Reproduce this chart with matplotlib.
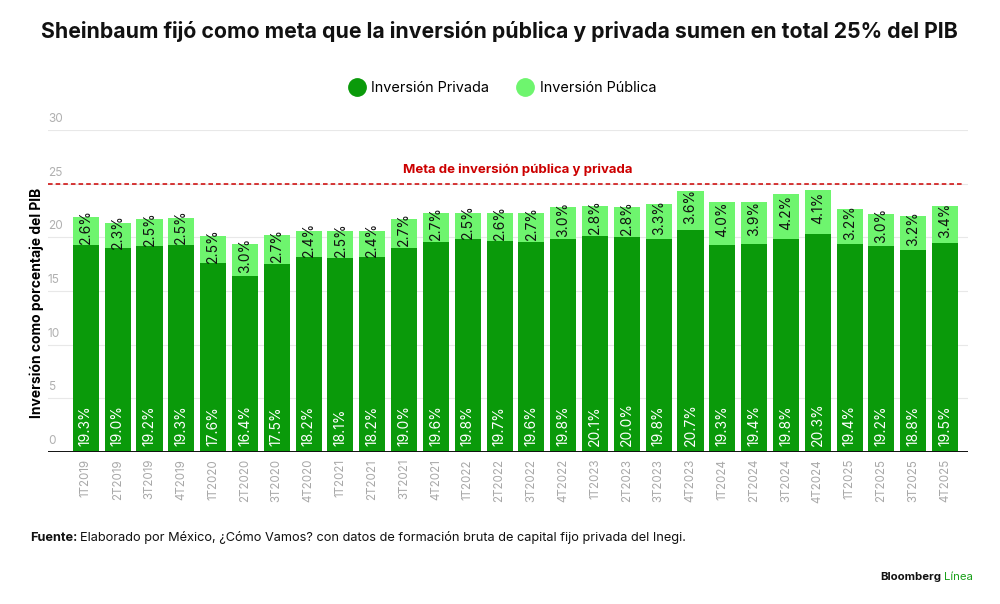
import numpy as np
import matplotlib
matplotlib.use('Agg')
import matplotlib.pyplot as plt
from matplotlib.lines import Line2D

plt.rcParams['font.family'] = ['Inter', 'DejaVu Sans']

# Data
trimestres = ['1T2019', '2T2019', '3T2019', '4T2019',
              '1T2020', '2T2020', '3T2020', '4T2020',
              '1T2021', '2T2021', '3T2021', '4T2021',
              '1T2022', '2T2022', '3T2022', '4T2022',
              '1T2023', '2T2023', '3T2023', '4T2023',
              '1T2024', '2T2024', '3T2024', '4T2024',
              '1T2025', '2T2025', '3T2025', '4T2025']
privada = [19.3, 19.0, 19.2, 19.3, 17.6, 16.4, 17.5, 18.2, 18.1, 18.2, 19.0, 19.6, 19.8, 19.7,
           19.6, 19.8, 20.1, 20.0, 19.8, 20.7, 19.3, 19.4, 19.8, 20.3, 19.4, 19.2, 18.8, 19.5]
publica = [2.6, 2.3, 2.5, 2.5, 2.5, 3.0, 2.7, 2.4, 2.5, 2.4, 2.7, 2.7, 2.5, 2.6,
           2.7, 3.0, 2.8, 2.8, 3.3, 3.6, 4.0, 3.9, 4.2, 4.1, 3.2, 3.0, 3.2, 3.4]
meta = 25

verde_osc = '#0a9a0a'
verde_cla = '#6ef56e'
rojo = '#cc0000'

fig = plt.figure(figsize=(10, 6.04), dpi=100)
ax = fig.add_axes([0.048, 0.2517, 0.92, 0.5331])

x = np.arange(len(trimestres))
priv = np.array(privada)
pub = np.array(publica)

ax.bar(x, priv, width=0.82, color=verde_osc, zorder=2)
ax.bar(x, pub, width=0.82, bottom=priv, color=verde_cla, zorder=2)

# etiquetas
for i in range(len(x)):
    ax.text(x[i], 0.55, f'{privada[i]:.1f}%', rotation=90, ha='center', va='bottom',
            color='white', fontsize=10, zorder=3)
    ax.text(x[i], priv[i] + pub[i] / 2 + 0.4, f'{publica[i]:.1f}%', rotation=90,
            ha='center', va='center', color='#111111', fontsize=10, zorder=3)

# meta
ax.axhline(meta, xmin=0, xmax=0.993, color=rojo, linestyle=(0, (3, 2)), linewidth=1.1, zorder=1)
ax.text(0.511, meta + 0.75, 'Meta de inversión pública y privada', transform=ax.get_yaxis_transform(),
        ha='center', va='bottom', color=rojo, fontsize=9.5, fontweight='bold')

ax.set_xlim(-1.19, len(x) - 1 + 0.72)
ax.set_ylim(0, 30)
ax.set_yticks([0, 5, 10, 15, 20, 25, 30])
ax.set_yticklabels([])
for v in [5, 10, 15, 20, 25, 30]:
    ax.axhline(v, color='#e8e8e8', linewidth=0.8, zorder=0)
for v in [0, 5, 10, 15, 20, 25, 30]:
    ax.text(0.0, v + 0.45, str(v), transform=ax.get_yaxis_transform(), ha='left', va='bottom',
            color='#b0b0b0', fontsize=8.5)
ax.axhline(0, color='#111111', linewidth=1.4, zorder=4)

ax.set_xticks(x)
ax.set_xticklabels(trimestres, rotation=90, color='#a8a8a8', fontsize=8.3)
ax.tick_params(axis='both', length=0, pad=5)
for s in ax.spines.values():
    s.set_visible(False)

ax.set_ylabel('Inversión como porcentaje del PIB', fontsize=10, fontweight='bold')
ax.yaxis.set_label_coords(-0.004, 0.463)

# titulo
fig.text(0.499, 0.948, 'Sheinbaum fijó como meta que la inversión pública y privada sumen en total 25% del PIB',
         ha='center', va='center', fontsize=15.3, fontweight='bold', color='#111111')

# leyenda
handles = [Line2D([], [], marker='o', linestyle='', markersize=12.5, color=verde_osc),
           Line2D([], [], marker='o', linestyle='', markersize=12.5, color=verde_cla)]
fig.legend(handles, ['Inversión Privada', 'Inversión Pública'], loc='center',
           bbox_to_anchor=(0.502, 0.854), ncol=2, frameon=False, fontsize=10.4,
           handletextpad=0.4, columnspacing=1.9, handlelength=1.2)

# fuente
t = fig.text(0.03, 0.105, 'Fuente:', fontsize=9.2, fontweight='bold', color='#111111', va='baseline')
fig.canvas.draw()
bb = t.get_window_extent()
fig.text(bb.x1 / 1000 + 0.003, 0.105, 'Elaborado por México, ¿Cómo Vamos? con datos de formación bruta de capital fijo privada del Inegi.',
         fontsize=9.2, color='#111111', va='baseline')

t2 = fig.text(0.973, 0.039, 'Línea', fontsize=8.2, color='#1aa01a', ha='right', va='baseline')
fig.canvas.draw()
bb2 = t2.get_window_extent()
fig.text(bb2.x0 / 1000 - 0.003, 0.039, 'Bloomberg', fontsize=8.2, fontweight='bold',
         color='#111111', ha='right', va='baseline')

fig.savefig('out.png', dpi=100)
